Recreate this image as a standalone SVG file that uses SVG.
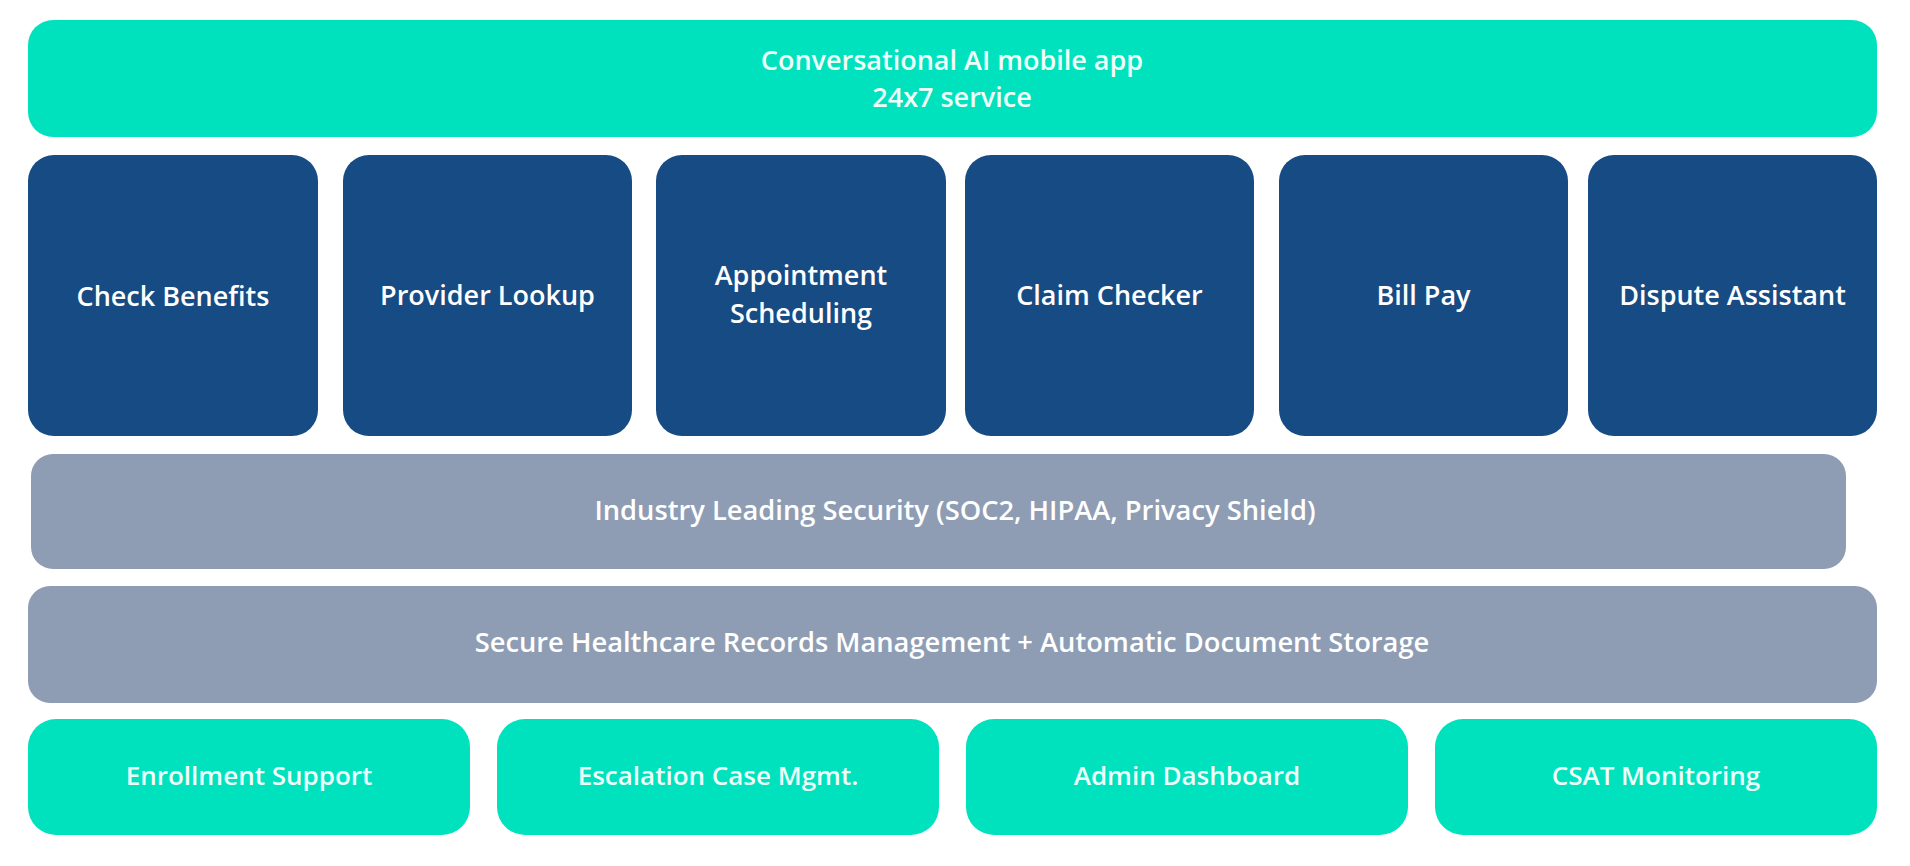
<svg xmlns="http://www.w3.org/2000/svg" width="1910" height="866" viewBox="0 0 1910 866">
<style>
.teal{fill:#00E2BE}
.blue{fill:#174B83}
.gray{fill:#8E9DB3}
text{font-family:"Open Sans","Noto Sans","Liberation Sans",sans-serif;text-anchor:middle;dominant-baseline:central;font-weight:600}
.tt{fill:#EFFFFA;font-size:27px}
.tb{fill:#FFFFFF;font-size:27px}
.tg{fill:#FFFFFF;font-size:27.300px}
.tbot{fill:#EFFFFA;font-size:26px}
</style>
<rect width="1910" height="866" fill="#FFFFFF"/>
<g id="top">
<rect class="teal" x="28" y="20" width="1849" height="117" rx="25"/>
<text class="tt" x="952" y="59">Conversational AI mobile app</text>
<text class="tt" x="952" y="96">24x7 service</text>
</g>
<g id="check-benefits">
<rect class="blue" x="28" y="155" width="290" height="281" rx="26"/>
<text class="tb" x="173" y="295">Check Benefits</text>
</g>
<g id="provider-lookup">
<rect class="blue" x="343" y="155" width="289" height="281" rx="26"/>
<text class="tb" x="487.500" y="294">Provider Lookup</text>
</g>
<g id="appointment-scheduling">
<rect class="blue" x="656" y="155" width="290" height="281" rx="26"/>
<text class="tb" x="801" y="274">Appointment</text>
<text class="tb" x="801" y="312">Scheduling</text>
</g>
<g id="claim-checker">
<rect class="blue" x="965" y="155" width="289" height="281" rx="26"/>
<text class="tb" x="1109.500" y="294">Claim Checker</text>
</g>
<g id="bill-pay">
<rect class="blue" x="1279" y="155" width="289" height="281" rx="26"/>
<text class="tb" x="1423.500" y="294">Bill Pay</text>
</g>
<g id="dispute-assistant">
<rect class="blue" x="1588" y="155" width="289" height="281" rx="26"/>
<text class="tb" x="1732.500" y="294">Dispute Assistant</text>
</g>
<g id="security">
<rect class="gray" x="31" y="454" width="1815" height="115" rx="22"/>
<text class="tg" x="955" y="509">Industry Leading Security (SOC2, HIPAA, Privacy Shield)</text>
</g>
<g id="records">
<rect class="gray" x="28" y="586" width="1849" height="117" rx="22"/>
<text class="tg" x="952" y="641">Secure Healthcare Records Management + Automatic Document Storage</text>
</g>
<g id="enrollment-support">
<rect class="teal" x="28" y="719" width="442" height="116" rx="28"/>
<text class="tbot" x="249" y="775">Enrollment Support</text>
</g>
<g id="escalation-case">
<rect class="teal" x="497" y="719" width="442" height="116" rx="28"/>
<text class="tbot" x="718" y="775">Escalation Case Mgmt.</text>
</g>
<g id="admin-dashboard">
<rect class="teal" x="966" y="719" width="442" height="116" rx="28"/>
<text class="tbot" x="1187" y="775">Admin Dashboard</text>
</g>
<g id="csat-monitoring">
<rect class="teal" x="1435" y="719" width="442" height="116" rx="28"/>
<text class="tbot" x="1656" y="775">CSAT Monitoring</text>
</g>
<g id="connectors"></g>
</svg>
